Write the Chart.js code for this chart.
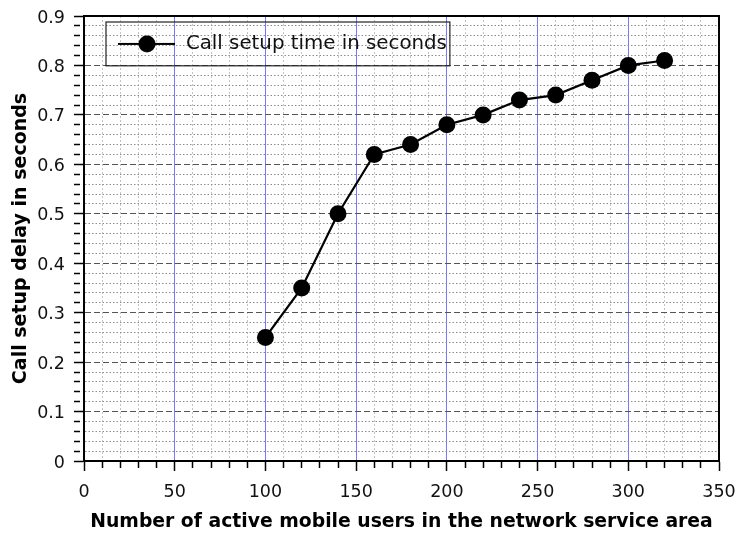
<!DOCTYPE html>
<html>
<head>
<meta charset="utf-8">
<script src="https://cdn.jsdelivr.net/npm/chart.js@4/dist/chart.umd.min.js"></script>
<style>
  body { margin: 0; background: #fff; }
</style>
</head>
<body>
<canvas id="delayChart" width="738" height="536"></canvas>
<script>
// Datos
const activeUsers = [100, 120, 140, 160, 180, 200, 220, 240, 260, 280, 300, 320];
const setupDelay = [0.25, 0.35, 0.50, 0.62, 0.64, 0.68, 0.70, 0.73, 0.74, 0.77, 0.80, 0.81];
const xMajorTicks = [0, 50, 100, 150, 200, 250, 300, 350];
const yMajorTicks = [0, 0.1, 0.2, 0.3, 0.4, 0.5, 0.6, 0.7, 0.8, 0.9];
const seriesLabel = 'Call setup time in seconds';

const X_MINOR = 10, Y_MINOR = 0.02;
const FONT = 'DejaVu Sans, sans-serif';

// marcas menores entre las mayores
function withMinor(major, step) {
    const out = [];
    for (let i = 0; i < major.length - 1; i++) {
        const n = Math.round((major[i + 1] - major[i]) / step);
        for (let k = 0; k < n; k++) out.push(+(major[i] + k * step).toFixed(4));
    }
    out.push(major[major.length - 1]);
    return out;
}
const isMajor = (v, list) => list.some(m => Math.abs(m - v) < 1e-6);

// icono de leyenda: línea con círculo
const legendMark = document.createElement('canvas');
legendMark.width = 58;
legendMark.height = 20;
(function () {
    const c = legendMark.getContext('2d');
    c.strokeStyle = '#000';
    c.lineWidth = 2;
    c.beginPath(); c.moveTo(0, 10); c.lineTo(57, 10); c.stroke();
    c.fillStyle = '#000';
    c.beginPath(); c.arc(29, 10, 8.5, 0, Math.PI * 2); c.fill();
})();

// marco del área y de la leyenda
const framePlugin = {
    id: 'frame',
    afterDraw(chart) {
        const {ctx, chartArea: a} = chart;
        ctx.save();
        ctx.strokeStyle = '#000';
        ctx.lineWidth = 2;
        ctx.beginPath();
        ctx.moveTo(a.left, a.top); ctx.lineTo(a.right, a.top); ctx.lineTo(a.right, a.bottom);
        ctx.stroke();
        const hb = chart.legend.legendHitBoxes[0];
        if (hb) {
            ctx.lineWidth = 1.2;
            ctx.strokeStyle = '#222';
            ctx.strokeRect(hb.left - 12, hb.top - 12, hb.width + 15, hb.height + 24);
        }
        ctx.restore();
    }
};

new Chart(document.getElementById('delayChart'), {
    type: 'line',
    data: {
        datasets: [{
            label: seriesLabel,
            data: activeUsers.map((x, i) => ({x: x, y: setupDelay[i]})),
            borderColor: '#000',
            backgroundColor: '#000',
            borderWidth: 2.2,
            pointRadius: 8.5,
            pointHoverRadius: 8.5,
            pointBorderWidth: 0,
            tension: 0
        }]
    },
    options: {
        responsive: false,
        animation: false,
        layout: {padding: {top: 16, right: 19, left: 0, bottom: 0}},
        plugins: {
            tooltip: {enabled: false},
            legend: {
                position: 'chartArea',
                align: 'start',
                labels: {
                    usePointStyle: true,
                    pointStyle: legendMark,
                    pointStyleWidth: 58,
                    padding: 34,
                    color: '#111',
                    font: {family: FONT, size: 19.8}
                }
            }
        },
        scales: {
            x: {
                type: 'linear',
                min: 0,
                max: 350,
                afterBuildTicks: axis => { axis.ticks = withMinor(xMajorTicks, X_MINOR).map(v => ({value: v})); },
                afterFit: axis => { axis.height = 75; axis.paddingLeft = 0; axis.paddingRight = 0; },
                ticks: {
                    autoSkip: false,
                    maxRotation: 0,
                    padding: 11,
                    color: '#111',
                    font: {family: FONT, size: 17.5},
                    callback: v => isMajor(v, xMajorTicks) ? String(v) : ''
                },
                grid: {
                    color: c => {
                        const v = c.tick ? c.tick.value : 0;
                        if (v <= 0 || v >= 350) return 'rgba(0,0,0,0)';
                        return isMajor(v, xMajorTicks) ? '#7878ff' : '#c4c4c4';
                    },
                    lineWidth: 1,
                    tickColor: '#000',
                    tickWidth: 1.5,
                    tickLength: 10,
                    tickBorderDash: c => (c.tick && isMajor(c.tick.value, xMajorTicks)) ? [] : [6, 100]
                },
                border: {
                    color: '#000',
                    width: 2,
                    dash: c => (c.tick && !isMajor(c.tick.value, xMajorTicks)) ? [2, 2] : []
                },
                title: {
                    display: true,
                    text: 'Number of active mobile users in the network service area',
                    color: '#000',
                    font: {family: FONT, size: 18.8, weight: 'bold'},
                    padding: {top: 0, bottom: 3}
                }
            },
            y: {
                min: 0,
                max: 0.9,
                afterBuildTicks: axis => { axis.ticks = withMinor(yMajorTicks, Y_MINOR).map(v => ({value: v})); },
                afterFit: axis => { axis.width = 84; axis.paddingTop = 0; axis.paddingBottom = 0; },
                ticks: {
                    autoSkip: false,
                    padding: 9,
                    labelOffset: 2,
                    color: '#111',
                    font: {family: FONT, size: 17.5},
                    callback: v => isMajor(v, yMajorTicks) ? String(v) : ''
                },
                grid: {
                    color: c => {
                        const v = c.tick ? c.tick.value : 0;
                        if (v <= 0 || v >= 0.9 - 1e-6) return 'rgba(0,0,0,0)';
                        return isMajor(v, yMajorTicks) ? '#555' : '#8c8c8c';
                    },
                    lineWidth: 1,
                    tickColor: '#000',
                    tickWidth: 1.5,
                    tickLength: 10,
                    tickBorderDash: c => (c.tick && isMajor(c.tick.value, yMajorTicks)) ? [] : [6, 100]
                },
                border: {
                    color: '#000',
                    width: 2,
                    dash: c => {
                        if (!c.tick) return [];
                        return isMajor(c.tick.value, yMajorTicks) ? [6, 3] : [1.5, 2];
                    }
                },
                title: {
                    display: true,
                    text: 'Call setup delay in seconds',
                    color: '#000',
                    font: {family: FONT, size: 19, weight: 'bold'},
                    padding: {top: 10, bottom: 0}
                }
            }
        }
    },
    plugins: [framePlugin]
});
</script>
</body>
</html>
